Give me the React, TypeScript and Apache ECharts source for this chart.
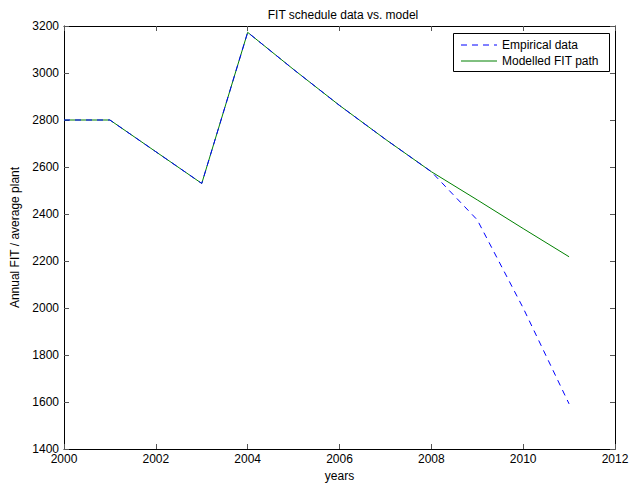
import React, { useEffect, useRef } from "react";
import * as echarts from "echarts";

const years = [2000, 2001, 2002, 2003, 2004, 2005, 2006, 2007, 2008, 2009, 2010, 2011];
const empirical = [2800, 2800, 2665, 2530, 3173, 3015, 2862, 2718, 2580, 2375, 2000, 1592];
const modelled = [2800, 2800, 2665, 2530, 3173, 3015, 2862, 2718, 2580, 2460, 2338, 2218];
const seriesNames = ["Empirical data", "Modelled FIT path"];
const titleText = "FIT schedule data vs. model";
const xName = "years";
const yName = "Annual FIT / average plant";

const FONT = "Liberation Sans, Arial, Helvetica, sans-serif";

export default function App() {
  const ref = useRef<HTMLDivElement>(null);
  useEffect(() => {
    document.body.style.margin = "0";
    if (!ref.current) return;
    const chart = echarts.init(ref.current, undefined, { renderer: "svg" });
    const tickStyle = { show: true, inside: true, length: 5, lineStyle: { color: "#555", width: 1 } };
    const axisLine = { show: true, lineStyle: { color: "#000", width: 1 } };
    chart.setOption({
      animation: false,
      backgroundColor: "#fff",
      textStyle: { fontFamily: FONT },
      title: {
        text: titleText,
        left: 338,
        top: 4,
        textAlign: "center",
        textStyle: { fontSize: 12, fontWeight: "normal", color: "#000", fontFamily: FONT },
      },
      grid: { left: 64, right: 15, top: 26, bottom: 35, containLabel: false, outerBoundsMode: "none" },
      xAxis: [
        {
          type: "value",
          min: 2000,
          max: 2012,
          interval: 2,
          name: xName,
          nameLocation: "middle",
          nameGap: 18,
          nameTextStyle: { fontSize: 12, color: "#000", fontFamily: FONT },
          axisLine,
          axisTick: tickStyle,
          splitLine: { show: false },
          axisLabel: {
            color: "#000",
            fontSize: 12,
            lineHeight: 12,
            margin: 4,
            formatter: (v: number) => String(v),
            fontFamily: FONT,
          },
        },
        {
          type: "value",
          position: "top",
          min: 2000,
          max: 2012,
          interval: 2,
          axisLine,
          axisTick: tickStyle,
          splitLine: { show: false },
          axisLabel: { show: false },
        },
      ],
      yAxis: [
        {
          type: "value",
          min: 1400,
          max: 3200,
          interval: 200,
          name: yName,
          nameLocation: "middle",
          nameGap: 39,
          nameRotate: 90,
          nameTextStyle: { fontSize: 12, color: "#000", fontFamily: FONT },
          axisLine,
          axisTick: tickStyle,
          splitLine: { show: false },
          axisLabel: {
            color: "#000",
            fontSize: 12,
            lineHeight: 8,
            margin: 5,
            formatter: (v: number) => String(v),
            fontFamily: FONT,
          },
        },
        {
          type: "value",
          position: "right",
          min: 1400,
          max: 3200,
          interval: 200,
          axisLine,
          axisTick: tickStyle,
          splitLine: { show: false },
          axisLabel: { show: false },
        },
      ],
      series: [
        {
          name: seriesNames[1],
          type: "line",
          data: years.map((y, i) => [y, modelled[i]]),
          symbol: "none",
          lineStyle: { color: "#008000", width: 1 },
          z: 2,
        },
        {
          name: seriesNames[0],
          type: "line",
          data: years.map((y, i) => [y, empirical[i]]),
          symbol: "none",
          lineStyle: { color: "#0000ff", width: 1, type: [6, 5] },
          z: 3,
        },
      ],
      graphic: [
        {
          type: "rect",
          shape: { x: 453.5, y: 33.5, width: 156, height: 38 },
          style: { fill: "#fff", stroke: "#000", lineWidth: 1 },
          z: 10,
        },
        {
          type: "line",
          shape: { x1: 461, y1: 45, x2: 497, y2: 45 },
          style: { stroke: "#0000ff", lineWidth: 1, lineDash: [6, 5] },
          z: 11,
        },
        {
          type: "line",
          shape: { x1: 461, y1: 61, x2: 497, y2: 61 },
          style: { stroke: "#008000", lineWidth: 1 },
          z: 11,
        },
        {
          type: "text",
          x: 502,
          y: 45,
          style: { text: seriesNames[0], fill: "#000", fontSize: 12, fontFamily: FONT, textVerticalAlign: "middle" },
          z: 11,
        },
        {
          type: "text",
          x: 502,
          y: 61,
          style: { text: seriesNames[1], fill: "#000", fontSize: 12, fontFamily: FONT, textVerticalAlign: "middle" },
          z: 11,
        },
      ],
    });
    return () => chart.dispose();
  }, []);
  return <div ref={ref} style={{ width: 630, height: 484 }} />;
}
